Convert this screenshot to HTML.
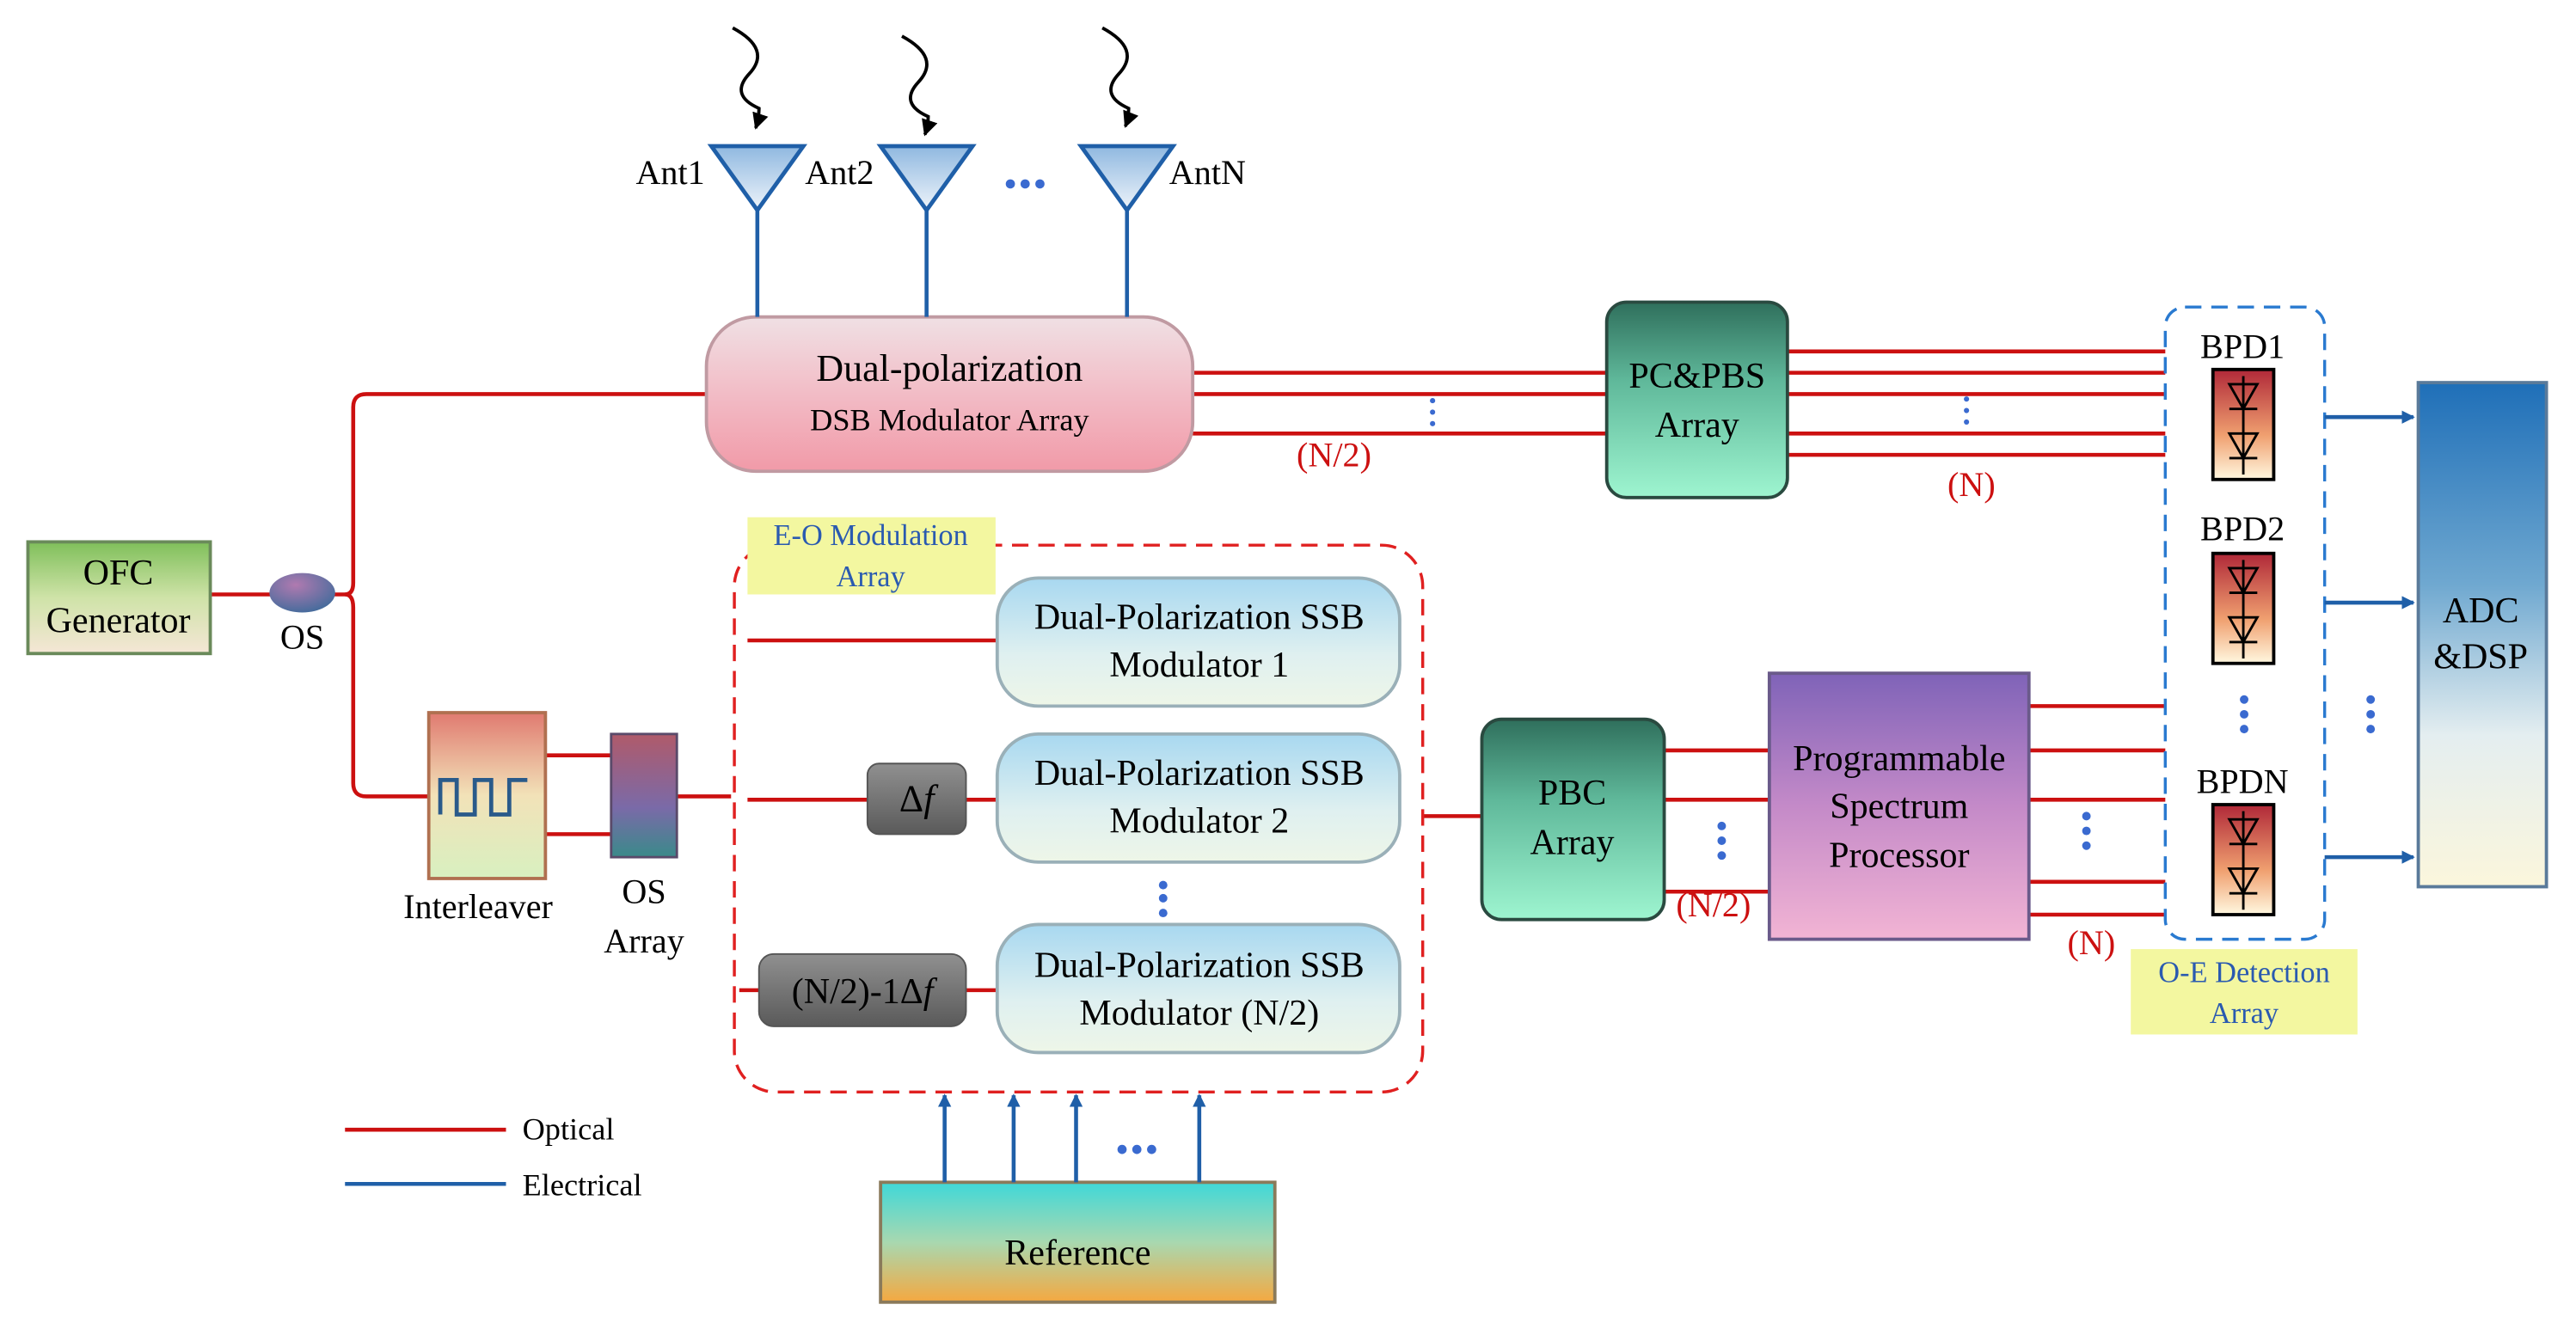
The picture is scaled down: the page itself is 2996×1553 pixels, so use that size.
<!DOCTYPE html>
<html><head><meta charset="utf-8"><style>html,body{margin:0;padding:0;background:#fff}svg{display:block}svg text{font-family:"Liberation Serif","DejaVu Serif",serif}</style></head><body>
<svg width="2996" height="1553" viewBox="0 0 1568 813" preserveAspectRatio="none" xmlns="http://www.w3.org/2000/svg" style="font-family:'Liberation Serif',serif">
<defs>
<linearGradient id="gOFC" x1="0" y1="0" x2="0" y2="1"><stop offset="0" stop-color="#7fbf5a"/><stop offset="0.5" stop-color="#cfe3a8"/><stop offset="1" stop-color="#f5e6d6"/></linearGradient>
<linearGradient id="gDSB" x1="0" y1="0" x2="0" y2="1"><stop offset="0" stop-color="#f0e0e4"/><stop offset="0.5" stop-color="#f2bcc6"/><stop offset="1" stop-color="#f19aa8"/></linearGradient>
<linearGradient id="gSSB" x1="0" y1="0" x2="0" y2="1"><stop offset="0" stop-color="#a8d8f0"/><stop offset="0.6" stop-color="#dff0f0"/><stop offset="1" stop-color="#eef6e8"/></linearGradient>
<linearGradient id="gTeal" x1="0" y1="0" x2="0" y2="1"><stop offset="0" stop-color="#2f6f5c"/><stop offset="0.4" stop-color="#5fb89a"/><stop offset="1" stop-color="#9ef5d0"/></linearGradient>
<linearGradient id="gPSP" x1="0" y1="0" x2="0" y2="1"><stop offset="0" stop-color="#7f63b8"/><stop offset="0.5" stop-color="#c48ac8"/><stop offset="1" stop-color="#f2b4d4"/></linearGradient>
<linearGradient id="gADC" x1="0" y1="0" x2="0" y2="1"><stop offset="0" stop-color="#1f6fb8"/><stop offset="0.4" stop-color="#6fa8d0"/><stop offset="0.7" stop-color="#e4eef0"/><stop offset="1" stop-color="#fbf6dc"/></linearGradient>
<linearGradient id="gRef" x1="0" y1="0" x2="0" y2="1"><stop offset="0" stop-color="#3fd8d8"/><stop offset="0.5" stop-color="#a8d8b0"/><stop offset="1" stop-color="#f5a840"/></linearGradient>
<linearGradient id="gInt" x1="0" y1="0" x2="0" y2="1"><stop offset="0" stop-color="#e07a70"/><stop offset="0.5" stop-color="#f2e2b8"/><stop offset="1" stop-color="#d8f0c0"/></linearGradient>
<linearGradient id="gOSA" x1="0" y1="0" x2="0" y2="1"><stop offset="0" stop-color="#b05a6a"/><stop offset="0.6" stop-color="#7a6aa8"/><stop offset="1" stop-color="#3a8a8a"/></linearGradient>
<linearGradient id="gBPD" x1="0" y1="0" x2="0" y2="1"><stop offset="0" stop-color="#b02838"/><stop offset="0.6" stop-color="#f0a070"/><stop offset="1" stop-color="#fff8e0"/></linearGradient>
<linearGradient id="gGray" x1="0" y1="0" x2="0" y2="1"><stop offset="0" stop-color="#909090"/><stop offset="1" stop-color="#5a5a5a"/></linearGradient>
<linearGradient id="gAnt" x1="0" y1="0" x2="0" y2="1"><stop offset="0" stop-color="#8fb8e0"/><stop offset="1" stop-color="#eef4fa"/></linearGradient>
<radialGradient id="gOS" cx="0.4" cy="0.3" r="0.8"><stop offset="0" stop-color="#b07ab0"/><stop offset="1" stop-color="#3a6a9a"/></radialGradient>
<marker id="ab" markerWidth="8" markerHeight="8" refX="7" refY="4" orient="auto" markerUnits="userSpaceOnUse"><path d="M0,0 L8,4 L0,8 z" fill="#1f5fa8"/></marker>
<marker id="ak" markerWidth="10" markerHeight="10" refX="9" refY="5" orient="auto" markerUnits="userSpaceOnUse"><path d="M0,0 L10,5 L0,10 z" fill="#000"/></marker>
</defs>

<g stroke="#cc1010" stroke-width="2.4" fill="none">
<path d="M128,362 H165"/>
<path d="M203,362 H210 Q215,362 215,355 V248 Q215,240 223,240 H430"/>
<path d="M210,362 Q215,362 215,370 V477 Q215,485 223,485 H262"/>
<path d="M332,460 H372 M332,508 H372 M412,485 H445"/>
<path d="M455,390 H607 M455,487 H528 M588,487 H607 M450,603 H462 M588,603 H607"/>
<path d="M866,497 H902"/>
<path d="M726,227 H978 M726,240 H978 M726,264 H978"/>
<path d="M1088,214 H1318 M1088,227 H1318 M1088,240 H1318 M1088,264 H1318 M1088,277 H1318"/>
<path d="M1013,457 H1077 M1013,487 H1077 M1013,543 H1077"/>
<path d="M1235,430 H1318 M1235,457 H1318 M1235,487 H1318 M1235,537 H1318 M1235,557 H1318"/>
<path d="M210,688 H308"/>
</g>
<path d="M210,721 H308" stroke="#1f5fa8" stroke-width="2.4"/>

<rect x="447" y="332" width="419" height="333" rx="25" fill="none" stroke="#e02020" stroke-width="1.8" stroke-dasharray="10,6"/>
<rect x="1318" y="187" width="97" height="385" rx="12" fill="none" stroke="#2a7ad0" stroke-width="1.8" stroke-dasharray="10,6"/>

<rect x="455" y="315" width="151" height="47" fill="#f3f7a0"/>
<text x="530" y="332" font-size="18" fill="#2a5ab0" text-anchor="middle">E-O Modulation</text>
<text x="530" y="357" font-size="18" fill="#2a5ab0" text-anchor="middle">Array</text>
<rect x="1297" y="578" width="138" height="52" fill="#f3f7a0"/>
<text x="1366" y="598" font-size="18" fill="#2a5ab0" text-anchor="middle">O-E Detection</text>
<text x="1366" y="623" font-size="18" fill="#2a5ab0" text-anchor="middle">Array</text>

<rect x="17" y="330" width="111" height="68" fill="url(#gOFC)" stroke="#6a8a5a" stroke-width="2"/>
<text x="72" y="356" font-size="22" text-anchor="middle">OFC</text>
<text x="72" y="385" font-size="22" text-anchor="middle">Generator</text>
<ellipse cx="184" cy="361" rx="20" ry="12" fill="url(#gOS)"/>
<text x="184" y="395" font-size="21" text-anchor="middle">OS</text>

<rect x="261" y="434" width="71" height="101" fill="url(#gInt)" stroke="#b07050" stroke-width="2"/>
<path d="M268,496 V475 H278 V496 H289 V475 H299 V496 H310 V475 H321" fill="none" stroke="#2a5a8a" stroke-width="2.5"/>
<text x="291" y="559" font-size="21" text-anchor="middle">Interleaver</text>
<rect x="372" y="447" width="40" height="75" fill="url(#gOSA)" stroke="#5a4a6a" stroke-width="1.5"/>
<text x="392" y="550" font-size="21" text-anchor="middle">OS</text>
<text x="392" y="580" font-size="21" text-anchor="middle">Array</text>

<g fill="url(#gSSB)" stroke="#9ab0b8" stroke-width="2">
<rect x="607" y="352" width="245" height="78" rx="25"/>
<rect x="607" y="447" width="245" height="78" rx="25"/>
<rect x="607" y="563" width="245" height="78" rx="25"/>
</g>
<g font-size="22" text-anchor="middle">
<text x="730" y="383">Dual-Polarization SSB</text><text x="730" y="412">Modulator 1</text>
<text x="730" y="478">Dual-Polarization SSB</text><text x="730" y="507">Modulator 2</text>
<text x="730" y="595">Dual-Polarization SSB</text><text x="730" y="624">Modulator (N/2)</text>
</g>
<rect x="528" y="465" width="60" height="43" rx="7" fill="url(#gGray)" stroke="#555"/>
<text x="558" y="494" font-size="23" text-anchor="middle">Δ<tspan font-style="italic">f</tspan></text>
<rect x="462" y="581" width="126" height="44" rx="9" fill="url(#gGray)" stroke="#555"/>
<text x="525" y="611" font-size="22" text-anchor="middle">(N/2)-1Δ<tspan font-style="italic">f</tspan></text>

<rect x="430" y="193" width="296" height="94" rx="30" fill="url(#gDSB)" stroke="#c09aa2" stroke-width="2"/>
<text x="578" y="232" font-size="23" text-anchor="middle">Dual-polarization</text>
<text x="578" y="262" font-size="19" text-anchor="middle">DSB Modulator Array</text>

<rect x="978" y="184" width="110" height="119" rx="12" fill="url(#gTeal)" stroke="#2a4a40" stroke-width="2"/>
<text x="1033" y="236" font-size="22" text-anchor="middle">PC&amp;PBS</text>
<text x="1033" y="266" font-size="22" text-anchor="middle">Array</text>
<rect x="902" y="438" width="111" height="122" rx="12" fill="url(#gTeal)" stroke="#2a4a40" stroke-width="2"/>
<text x="957" y="490" font-size="22" text-anchor="middle">PBC</text>
<text x="957" y="520" font-size="22" text-anchor="middle">Array</text>

<rect x="1077" y="410" width="158" height="162" fill="url(#gPSP)" stroke="#6a5a8a" stroke-width="2"/>
<text x="1156" y="469" font-size="22" text-anchor="middle">Programmable</text>
<text x="1156" y="498" font-size="22" text-anchor="middle">Spectrum</text>
<text x="1156" y="528" font-size="22" text-anchor="middle">Processor</text>

<g font-size="21" text-anchor="middle">
<text x="1365" y="218">BPD1</text><text x="1365" y="329">BPD2</text><text x="1365" y="483">BPDN</text>
</g>
<g id="bpd">
<rect x="1347" y="225" width="37" height="67" fill="url(#gBPD)" stroke="#000" stroke-width="2"/>
<path d="M1365.5,229 V289 M1357,234 H1374 L1365.5,249 Z M1357,249 H1374 M1357,264 H1374 L1365.5,279 Z M1357,279 H1374" fill="none" stroke="#000" stroke-width="1.5"/>
</g>
<use href="#bpd" y="112"/>
<use href="#bpd" y="265"/>

<rect x="1472" y="233" width="78" height="307" fill="url(#gADC)" stroke="#5a7a9a" stroke-width="2"/>
<text x="1510" y="379" font-size="22" text-anchor="middle">ADC</text>
<text x="1510" y="407" font-size="22" text-anchor="middle">&amp;DSP</text>
<g stroke="#1f5fa8" stroke-width="2.4" marker-end="url(#ab)">
<path d="M1415,254 H1469"/><path d="M1415,367 H1469"/><path d="M1415,522 H1469"/>
</g>

<g fill="#3a6ad0">
<circle cx="872" cy="244" r="1.6"/><circle cx="872" cy="251" r="1.6"/><circle cx="872" cy="258" r="1.6"/>
<circle cx="1197" cy="243" r="1.6"/><circle cx="1197" cy="250" r="1.6"/><circle cx="1197" cy="257" r="1.6"/>
<circle cx="708" cy="539" r="2.6"/><circle cx="708" cy="547" r="2.6"/><circle cx="708" cy="556" r="2.6"/>
<circle cx="1048" cy="503" r="2.6"/><circle cx="1048" cy="512" r="2.6"/><circle cx="1048" cy="521" r="2.6"/>
<circle cx="1270" cy="497" r="2.6"/><circle cx="1270" cy="506" r="2.6"/><circle cx="1270" cy="515" r="2.6"/>
<circle cx="1366" cy="426" r="2.6"/><circle cx="1366" cy="435" r="2.6"/><circle cx="1366" cy="444" r="2.6"/>
<circle cx="1443" cy="426" r="2.6"/><circle cx="1443" cy="435" r="2.6"/><circle cx="1443" cy="444" r="2.6"/>
<circle cx="615" cy="112" r="2.8"/><circle cx="624" cy="112" r="2.8"/><circle cx="633" cy="112" r="2.8"/>
<circle cx="683" cy="700" r="2.8"/><circle cx="692" cy="700" r="2.8"/><circle cx="701" cy="700" r="2.8"/>
</g>
<g fill="#cc1010" font-size="21" text-anchor="middle">
<text x="812" y="284">(N/2)</text><text x="1200" y="302">(N)</text><text x="1043" y="558">(N/2)</text><text x="1273" y="581">(N)</text>
</g>

<g stroke="#1f5fa8" stroke-width="2.4">
<path d="M461,128 V193 M564,128 V193 M686,128 V193"/>
</g>
<g fill="url(#gAnt)" stroke="#1f5fa8" stroke-width="2.5">
<path d="M433,89 H489 L461,128 Z"/><path d="M536,89 H592 L564,128 Z"/><path d="M658,89 H714 L686,128 Z"/>
</g>
<g stroke="#000" stroke-width="2" fill="none" marker-end="url(#ak)">
<path d="M446,17 Q470,30 456,45 Q444,58 462,66 Q462,72 460,78"/>
<path d="M549,22 Q573,35 559,50 Q547,63 565,71 Q565,76 563,82"/>
<path d="M671,17 Q695,30 681,45 Q669,58 687,66 Q687,72 685,77"/>
</g>
<g font-size="21" text-anchor="middle">
<text x="408" y="112">Ant1</text><text x="511" y="112">Ant2</text><text x="735" y="112">AntN</text>
</g>

<text x="318" y="694" font-size="19">Optical</text>
<text x="318" y="728" font-size="19">Electrical</text>

<rect x="536" y="720" width="240" height="73" fill="url(#gRef)" stroke="#8a7a5a" stroke-width="2"/>
<text x="656" y="770" font-size="22" text-anchor="middle">Reference</text>
<g stroke="#1f5fa8" stroke-width="2.4" marker-end="url(#ab)">
<path d="M575,720 V667"/><path d="M617,720 V667"/><path d="M655,720 V667"/><path d="M730,720 V667"/>
</g>
</svg>
</body></html>
